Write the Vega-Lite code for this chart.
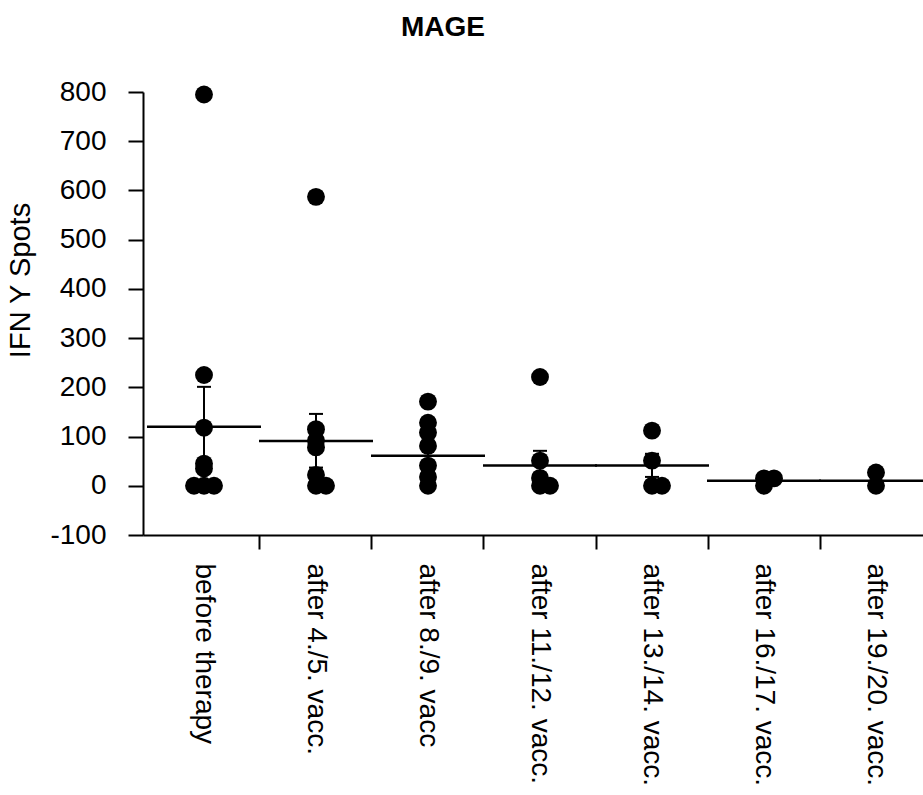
{
  "$schema": "https://vega.github.io/schema/vega-lite/v6.json",
  "autosize": {"type": "none"},
  "width": 794,
  "height": 443,
  "padding": {"left": 143, "top": 92, "right": 0, "bottom": 260},
  "background": "white",
  "config": {"view": {"stroke": null}, "font": "Liberation Sans"},
  "title": {"text": "MAGE", "fontSize": 28, "fontWeight": "bold", "color": "black", "anchor": "middle", "frame": "group", "dx": -97, "offset": 36, "font": "Liberation Sans"},
  "datasets": {
    "points": [
      {"stage": "before therapy", "spots": 795},
      {"stage": "before therapy", "spots": 225},
      {"stage": "before therapy", "spots": 118},
      {"stage": "before therapy", "spots": 45},
      {"stage": "before therapy", "spots": 35},
      {"stage": "before therapy", "spots": 0},
      {"stage": "before therapy", "spots": 0},
      {"stage": "before therapy", "spots": 0},
      {"stage": "after 4./5. vacc.", "spots": 587},
      {"stage": "after 4./5. vacc.", "spots": 115},
      {"stage": "after 4./5. vacc.", "spots": 92},
      {"stage": "after 4./5. vacc.", "spots": 78},
      {"stage": "after 4./5. vacc.", "spots": 22},
      {"stage": "after 4./5. vacc.", "spots": 0},
      {"stage": "after 4./5. vacc.", "spots": 0},
      {"stage": "after 8./9. vacc", "spots": 171},
      {"stage": "after 8./9. vacc", "spots": 128},
      {"stage": "after 8./9. vacc", "spots": 108},
      {"stage": "after 8./9. vacc", "spots": 81},
      {"stage": "after 8./9. vacc", "spots": 41},
      {"stage": "after 8./9. vacc", "spots": 18},
      {"stage": "after 8./9. vacc", "spots": 0},
      {"stage": "after 11./12. vacc.", "spots": 221},
      {"stage": "after 11./12. vacc.", "spots": 51},
      {"stage": "after 11./12. vacc.", "spots": 16},
      {"stage": "after 11./12. vacc.", "spots": 0},
      {"stage": "after 11./12. vacc.", "spots": 0},
      {"stage": "after 13./14. vacc.", "spots": 112},
      {"stage": "after 13./14. vacc.", "spots": 51},
      {"stage": "after 13./14. vacc.", "spots": 0},
      {"stage": "after 13./14. vacc.", "spots": 0},
      {"stage": "after 16./17. vacc.", "spots": 15},
      {"stage": "after 16./17. vacc.", "spots": 15},
      {"stage": "after 16./17. vacc.", "spots": 0},
      {"stage": "after 19./20. vacc.", "spots": 27},
      {"stage": "after 19./20. vacc.", "spots": 0}
    ],
    "summary": [
      {"stage": "before therapy", "mean": 120, "lo": 39, "hi": 201},
      {"stage": "after 4./5. vacc.", "mean": 91, "lo": 37, "hi": 146},
      {"stage": "after 8./9. vacc", "mean": 61, "lo": 36, "hi": 86},
      {"stage": "after 11./12. vacc.", "mean": 41, "lo": 11, "hi": 71},
      {"stage": "after 13./14. vacc.", "mean": 41, "lo": 18, "hi": 65},
      {"stage": "after 16./17. vacc.", "mean": 10, "lo": 5, "hi": 15},
      {"stage": "after 19./20. vacc.", "mean": 10, "lo": 2, "hi": 18}
    ]
  },
  "layer": [
    {
      "data": {"name": "summary"},
      "mark": {"type": "tick", "size": 114, "thickness": 2.5, "color": "black", "opacity": 1},
      "encoding": {
        "x": {
          "field": "stage", "type": "nominal",
          "sort": ["before therapy", "after 4./5. vacc.", "after 8./9. vacc", "after 11./12. vacc.", "after 13./14. vacc.", "after 16./17. vacc.", "after 19./20. vacc."],
          "scale": {"type": "band", "paddingInner": 0, "paddingOuter": 0.0446},
          "axis": {
            "title": null, "labelAngle": 90, "labelFontSize": 28, "labelColor": "black", "labelPadding": 14,
            "labelLimit": 0, "tickSize": 14, "tickWidth": 2, "tickColor": "black",
            "domainColor": "black", "domainWidth": 2, "bandPosition": 0,
            "tickOpacity": {"condition": {"test": "datum.value === 'before therapy'", "value": 0}, "value": 1}
          }
        },
        "y": {
          "field": "mean", "type": "quantitative",
          "scale": {"domain": [-100, 800], "nice": false, "zero": false},
          "axis": {
            "title": "IFN Y Spots", "titleFontSize": 29, "titleFontWeight": "normal", "titleColor": "black",
            "titleX": -108, "titleY": 188,
            "values": [-100, 0, 100, 200, 300, 400, 500, 600, 700, 800],
            "labelExpr": "datum.value < 0 ? '-' + abs(datum.value) : datum.label",
            "labelFontSize": 28, "labelColor": "black", "labelPadding": 22,
            "tickSize": 15, "tickWidth": 2, "tickColor": "black",
            "domainColor": "black", "domainWidth": 2, "grid": false
          }
        }
      }
    },
    {
      "data": {"name": "summary"},
      "mark": {"type": "rule", "strokeWidth": 2, "color": "black"},
      "encoding": {
        "x": {"field": "stage", "type": "nominal", "sort": ["before therapy", "after 4./5. vacc.", "after 8./9. vacc", "after 11./12. vacc.", "after 13./14. vacc.", "after 16./17. vacc.", "after 19./20. vacc."]},
        "y": {"field": "lo", "type": "quantitative"},
        "y2": {"field": "hi"}
      }
    },
    {
      "data": {"name": "summary"},
      "mark": {"type": "tick", "size": 14, "thickness": 2, "color": "black", "opacity": 1},
      "encoding": {
        "x": {"field": "stage", "type": "nominal", "sort": ["before therapy", "after 4./5. vacc.", "after 8./9. vacc", "after 11./12. vacc.", "after 13./14. vacc.", "after 16./17. vacc.", "after 19./20. vacc."]},
        "y": {"field": "hi", "type": "quantitative"}
      }
    },
    {
      "data": {"name": "summary"},
      "mark": {"type": "tick", "size": 14, "thickness": 2, "color": "black", "opacity": 1},
      "encoding": {
        "x": {"field": "stage", "type": "nominal", "sort": ["before therapy", "after 4./5. vacc.", "after 8./9. vacc", "after 11./12. vacc.", "after 13./14. vacc.", "after 16./17. vacc.", "after 19./20. vacc."]},
        "y": {"field": "lo", "type": "quantitative"}
      }
    },
    {
      "data": {"name": "points"},
      "transform": [
        {"window": [{"op": "row_number", "as": "k"}], "groupby": ["stage", "spots"]},
        {"filter": "datum.k === 1"}
      ],
      "mark": {"type": "circle", "size": 320, "color": "black", "opacity": 1},
      "encoding": {
        "x": {"field": "stage", "type": "nominal", "sort": ["before therapy", "after 4./5. vacc.", "after 8./9. vacc", "after 11./12. vacc.", "after 13./14. vacc.", "after 16./17. vacc.", "after 19./20. vacc."]},
        "y": {"field": "spots", "type": "quantitative"}
      }
    },
    {
      "data": {"name": "points"},
      "transform": [
        {"window": [{"op": "row_number", "as": "k"}], "groupby": ["stage", "spots"]},
        {"filter": "datum.k === 2"}
      ],
      "mark": {"type": "circle", "size": 320, "color": "black", "opacity": 1},
      "encoding": {
        "x": {"field": "stage", "type": "nominal", "sort": ["before therapy", "after 4./5. vacc.", "after 8./9. vacc", "after 11./12. vacc.", "after 13./14. vacc.", "after 16./17. vacc.", "after 19./20. vacc."]},
        "xOffset": {"value": 66},
        "y": {"field": "spots", "type": "quantitative"}
      }
    },
    {
      "data": {"name": "points"},
      "transform": [
        {"window": [{"op": "row_number", "as": "k"}], "groupby": ["stage", "spots"]},
        {"filter": "datum.k === 3"}
      ],
      "mark": {"type": "circle", "size": 320, "color": "black", "opacity": 1},
      "encoding": {
        "x": {"field": "stage", "type": "nominal", "sort": ["before therapy", "after 4./5. vacc.", "after 8./9. vacc", "after 11./12. vacc.", "after 13./14. vacc.", "after 16./17. vacc.", "after 19./20. vacc."]},
        "xOffset": {"value": 46},
        "y": {"field": "spots", "type": "quantitative"}
      }
    }
  ]
}
